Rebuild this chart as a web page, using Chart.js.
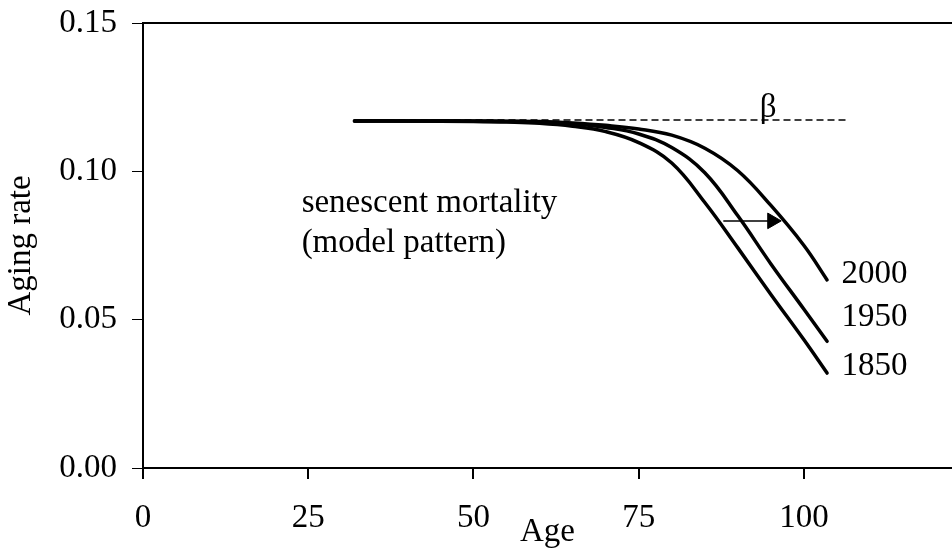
<!DOCTYPE html>
<html>
<head>
<meta charset="utf-8">
<script src="https://cdn.jsdelivr.net/npm/chart.js@4"></script>
<style>
  html, body { margin: 0; padding: 0; background: #fff; overflow: hidden; }
  #wrap { position: relative; width: 952px; height: 555px; }
  #agingChart { display: block; }
</style>
</head>
<body>
<div id="wrap"><canvas id="agingChart"></canvas></div>
<script>
// Chart values
const ages = [32, 40, 50, 55, 60, 65, 70, 75, 80, 85, 90, 95, 100, 103.5];
const rate1850 = [0.1170, 0.1170, 0.1168, 0.1166, 0.1162, 0.1152, 0.1134, 0.1097, 0.1028, 0.0895, 0.0742, 0.0585, 0.0432, 0.0320];
const rate1950 = [0.1170, 0.1170, 0.1169, 0.1168, 0.1166, 0.1160, 0.1148, 0.1126, 0.1080, 0.0995, 0.0850, 0.0688, 0.0535, 0.0427];
const rate2000 = [0.1170, 0.1170, 0.1170, 0.1169, 0.1168, 0.1163, 0.1155, 0.1143, 0.1122, 0.1078, 0.1002, 0.0885, 0.0750, 0.0634];

const betaAges = [32, 106.5];
const betaRate = [0.1173, 0.1173];
const arrowAges = [87.8, 95.2];
const arrowRate = [0.0833, 0.0833];

const xTicks = [0, 25, 50, 75, 100];
const yTicks = [0, 0.05, 0.10, 0.15];

const yearLabels = ['2000', '1950', '1850'];
const yearLabelAge = 105.7;
const yearLabelRates = [0.0623, 0.0479, 0.0313];

const noteLines = ['senescent mortality', '(model pattern)'];
const noteAge = 24.0;
const noteRates = [0.0863, 0.0728];

const betaLabel = 'β';
const betaLabelAge = 93.3;
const betaLabelRate = 0.1183;

const FONT = "'Liberation Serif', 'Times New Roman', serif";

function toPoints(xs, ys) {
  return xs.map((x, i) => ({ x: x, y: ys[i] }));
}

function curve(data) {
  return {
    data: data,
    borderColor: '#000',
    borderWidth: 3.5,
    borderCapStyle: 'round',
    borderJoinStyle: 'round',
    pointRadius: 0,
    tension: 0.4,
    fill: false
  };
}

// Free text drawn at data positions
const textPlugin = {
  id: 'notes',
  afterDatasetsDraw(chart) {
    const ctx = chart.ctx;
    const xs = chart.scales.x;
    const ys = chart.scales.y;
    ctx.save();
    ctx.fillStyle = '#000';
    ctx.textAlign = 'left';
    ctx.textBaseline = 'alphabetic';
    ctx.font = '33px ' + FONT;
    yearLabels.forEach((t, i) => {
      ctx.fillText(t, xs.getPixelForValue(yearLabelAge), ys.getPixelForValue(yearLabelRates[i]));
    });
    noteLines.forEach((t, i) => {
      ctx.fillText(t, xs.getPixelForValue(noteAge), ys.getPixelForValue(noteRates[i]));
    });
    ctx.fillText(betaLabel, xs.getPixelForValue(betaLabelAge), ys.getPixelForValue(betaLabelRate));
    ctx.restore();
  }
};

const ctx = document.getElementById('agingChart').getContext('2d');

new Chart(ctx, {
  type: 'line',
  data: {
    datasets: [
      {
        data: toPoints(betaAges, betaRate),
        borderColor: '#000',
        borderWidth: 1.4,
        borderDash: [7, 4],
        pointRadius: 0,
        fill: false
      },
      curve(toPoints(ages, rate1850)),
      curve(toPoints(ages, rate1950)),
      curve(toPoints(ages, rate2000)),
      {
        data: toPoints(arrowAges, arrowRate),
        borderColor: '#000',
        borderWidth: 1.5,
        pointStyle: 'triangle',
        rotation: 90,
        pointRadius: [0, 9],
        pointBackgroundColor: '#000',
        pointBorderColor: '#000',
        pointBorderWidth: 1,
        fill: false
      }
    ]
  },
  options: {
    responsive: true,
    maintainAspectRatio: false,
    animation: false,
    layout: { autoPadding: false, padding: { top: 23, right: 0, bottom: 0, left: 0 } },
    plugins: {
      legend: { display: false },
      tooltip: { enabled: false }
    },
    scales: {
      x: {
        type: 'linear',
        position: 'bottom',
        min: 0,
        max: 122.4,
        afterBuildTicks: axis => { axis.ticks = xTicks.map(v => ({ value: v })); },
        afterFit: axis => {
          axis.height = 87;
          axis.paddingLeft = 0;
          axis.paddingRight = 0;
        },
        grid: {
          drawOnChartArea: false,
          drawTicks: true,
          tickLength: 11,
          tickColor: '#000',
          lineWidth: 2
        },
        border: { display: true, color: '#000', width: 2 },
        ticks: {
          color: '#000',
          padding: 20,
          maxRotation: 0,
          font: { family: FONT, size: 33 }
        },
        title: {
          display: true,
          text: 'Age',
          color: '#000',
          padding: { top: 0, bottom: 3 },
          font: { family: FONT, size: 33 }
        }
      },
      xTop: {
        type: 'linear',
        position: 'top',
        afterFit: axis => {
          axis.height = 0;
          axis.paddingLeft = 0;
          axis.paddingRight = 0;
        },
        grid: { display: false },
        ticks: { display: false },
        border: { display: true, color: '#000', width: 2 }
      },
      y: {
        type: 'linear',
        min: 0,
        max: 0.15,
        afterBuildTicks: axis => { axis.ticks = yTicks.map(v => ({ value: v })); },
        afterFit: axis => {
          axis.width = 143;
          axis.paddingTop = 0;
          axis.paddingBottom = 0;
        },
        grid: {
          drawOnChartArea: false,
          drawTicks: true,
          tickLength: 11,
          tickColor: '#000',
          lineWidth: 1
        },
        border: { display: true, color: '#000', width: 2 },
        ticks: {
          color: '#000',
          padding: 15,
          font: { family: FONT, size: 33 },
          callback: v => v.toFixed(2)
        },
        title: {
          display: true,
          text: 'Aging rate',
          color: '#000',
          padding: { top: 2, bottom: 0 },
          font: { family: FONT, size: 33 }
        }
      }
    }
  },
  plugins: [textPlugin]
});
</script>
</body>
</html>
